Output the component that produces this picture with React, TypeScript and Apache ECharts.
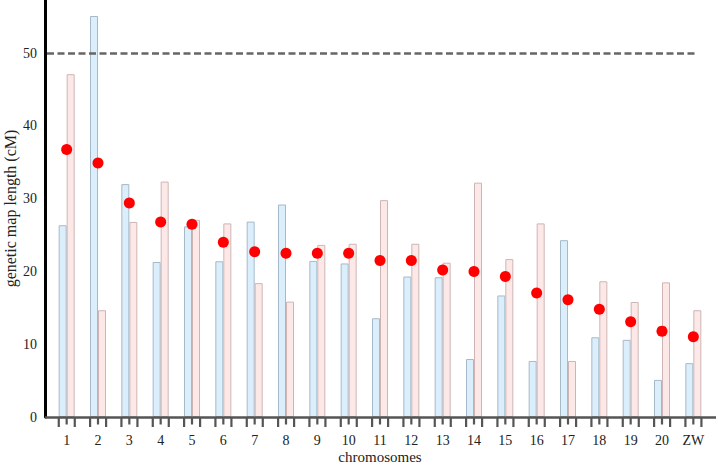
import React, { useEffect, useRef } from "react";
import * as echarts from "echarts";

const categories = ["1","2","3","4","5","6","7","8","9","10","11","12","13","14","15","16","17","18","19","20","ZW"];
const blueValues = [26.35,55.1,32.0,21.3,26.2,21.4,26.85,29.2,21.45,21.1,13.57,19.3,19.2,7.97,16.7,7.7,24.3,10.95,10.6,5.1,7.4];
const pinkValues = [47.1,14.67,26.8,32.35,27.1,26.6,18.4,15.85,23.65,23.8,29.8,23.8,21.2,32.2,21.7,26.6,7.7,18.65,15.8,18.5,14.67];
const dotValues = [36.75,34.9,29.4,26.8,26.5,24.0,22.7,22.5,22.5,22.5,21.5,21.5,20.2,20.0,19.3,17.05,16.1,14.8,13.1,11.8,11.04];
const yTicks = { min: 0, max: 57.3, interval: 10 };
const thresholdValue = 50;

const FONT = "'Liberation Serif', 'Times New Roman', serif";

export default function App() {
  const ref = useRef<HTMLDivElement>(null);
  useEffect(() => {
    if (!ref.current) return;
    const chart = echarts.init(ref.current, null, { renderer: "svg" });
    chart.setOption({
      animation: false,
      backgroundColor: "#ffffff",
      grid: { left: 51, right: 9, top: 0, bottom: 50, containLabel: false, outerBoundsMode: "none" },
      xAxis: {
        type: "category",
        data: categories,
        axisLine: { show: false },
        axisTick: { show: false },
        axisLabel: { margin: 16, fontSize: 14, color: "#222", fontFamily: FONT },
        name: "chromosomes",
        nameLocation: "middle",
        nameGap: 32,
        nameMoveOverlap: false,
        nameTextStyle: { fontSize: 15, color: "#222", fontFamily: FONT },
        splitLine: { show: false },
      },
      yAxis: {
        type: "value",
        min: yTicks.min,
        max: yTicks.max,
        interval: yTicks.interval,
        offset: 6,
        axisLine: { show: true, lineStyle: { color: "#000", width: 3 } },
        axisTick: { show: false },
        axisLabel: { margin: 8, fontSize: 14, color: "#222", fontFamily: FONT, showMaxLabel: false },
        splitLine: { show: false },
        name: "genetic map length (cM)",
        nameLocation: "middle",
        nameGap: 27,
        nameMoveOverlap: false,
        nameTextStyle: { fontSize: 16, color: "#222", fontFamily: FONT },
      },
      graphic: [
        {
          type: "line",
          shape: { x1: 45, y1: 417.5, x2: 716, y2: 417.5 },
          style: { stroke: "#555", lineWidth: 2.5 },
          z: 5,
        },
      ],
      series: [
        {
          type: "bar",
          data: blueValues,
          barWidth: 8,
          barGap: "0%",
          itemStyle: { color: "#dbeefb", borderColor: "#a6b9c9", borderWidth: 1 },
          markLine: {
            silent: true,
            symbol: "none",
            label: { show: false },
            lineStyle: { color: "#666", width: 2.5, type: [7, 3.5] },
            data: [[{ x: 47, yAxis: thresholdValue }, { x: 698, yAxis: thresholdValue }]],
          },
        },
        {
          type: "bar",
          data: pinkValues,
          barWidth: 8,
          barGap: "0%",
          itemStyle: { color: "#fde8e8", borderColor: "#cdb5b5", borderWidth: 1 },
        },
        {
          type: "scatter",
          data: dotValues,
          symbol: "circle",
          symbolSize: 11,
          itemStyle: { color: "#ff0000", opacity: 1 },
          z: 10,
        },
        {
          type: "custom",
          data: categories.map((c, i) => [i, 0]),
          z: 6,
          renderItem: (params: any, api: any) => {
            const p = api.coord([api.value(0), 0]);
            const y = p[1] + 0.5;
            const c = "#555";
            return {
              type: "group",
              children: [
                { type: "rect", shape: { x: p[0] - 9, y, width: 2.2, height: 9.5 }, style: { fill: c } },
                { type: "rect", shape: { x: p[0] - 1.1, y, width: 2.2, height: 7 }, style: { fill: c } },
                { type: "rect", shape: { x: p[0] + 7, y, width: 2.2, height: 9.5 }, style: { fill: c } },
              ],
            };
          },
        },
      ],
    });
    return () => chart.dispose();
  }, []);
  return <div ref={ref} style={{ width: 718, height: 467, position: "absolute", left: 0, top: 0 }} />;
}
